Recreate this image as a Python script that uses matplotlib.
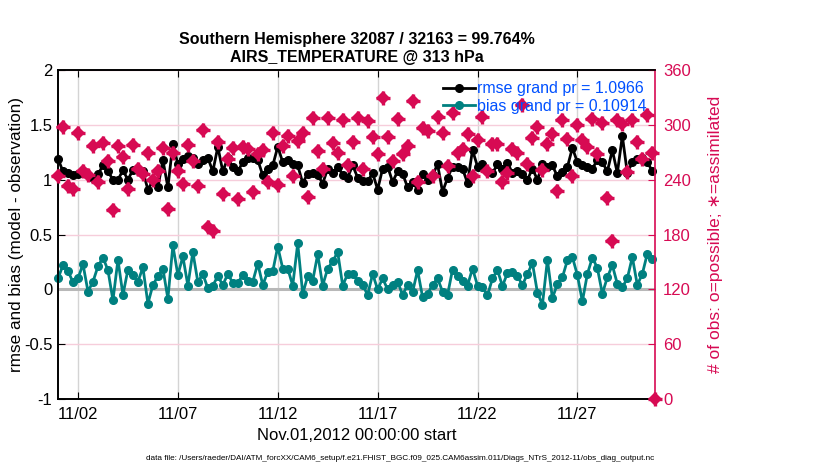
import matplotlib
matplotlib.use('Agg')
import matplotlib.pyplot as plt
import matplotlib.dates as mdates
import numpy as np
import pandas as pd

plt.rcParams['font.family'] = ['Liberation Sans', 'DejaVu Sans']

# 6-hourly bins, Nov 1 2012 onwards
bin_times = pd.date_range('2012-11-01 00:00', periods=120, freq='6h')
end_time = pd.Timestamp('2012-11-30 21:00')

rmse = [1.19, 1.075, 1.06, 1.045, 1.05, 1.075, 1.04, 1.02, 1.05, 1.13,
        1.075, 1.0, 1.0, 1.085, 1.0, 1.09, 1.1, 1.075, 0.91, 0.99,
        0.93, 1.18, 0.93, 1.33, 1.14, 1.19, 1.215, 1.2, 1.145, 1.18,
        1.2, 1.075, 1.30, 1.075, 1.2, 1.115, 1.075, 1.16, 1.2, 1.2,
        1.18, 1.04, 1.1, 1.13, 1.30, 1.16, 1.18, 1.14, 1.13, 0.97,
        1.055, 1.06, 1.045, 0.965, 1.1, 1.06, 1.12, 1.045, 1.02, 1.13,
        1.02, 0.985, 0.985, 1.06, 0.91, 1.1, 1.12, 0.98, 1.075, 1.055,
        0.93, 0.98, 0.91, 1.055, 1.0, 1.04, 1.14, 0.89, 1.015, 1.12,
        1.115, 1.1, 0.97, 1.27, 1.12, 1.14, 1.075, 1.06, 1.14, 1.1,
        1.155, 1.06, 1.075, 1.055, 1.0, 1.1, 1.0, 1.14, 1.115, 1.13,
        1.03, 1.07, 1.115, 1.29, 1.16, 1.13, 1.115, 1.1, 1.18, 1.16,
        1.075, 1.27, 1.06, 1.40, 1.06, 1.16, 1.19, 1.195, 1.165, 1.075]

bias = [0.10, 0.22, 0.165, 0.067, 0.10, 0.23, -0.02, 0.07, 0.21, 0.29,
        0.175, -0.10, 0.27, -0.05, 0.18, 0.13, 0.07, 0.20, -0.13, 0.04,
        0.12, 0.19, -0.085, 0.40, 0.13, 0.30, 0.035, 0.34, 0.067, 0.14,
        0.01, 0.035, 0.12, 0.04, 0.14, 0.06, 0.06, 0.13, 0.08, 0.07,
        0.235, 0.04, 0.16, 0.165, 0.39, 0.19, 0.19, 0.035, 0.42, -0.04,
        0.12, 0.08, 0.32, 0.035, 0.19, 0.255, 0.34, 0.035, 0.14, 0.14,
        0.08, 0.04, -0.05, 0.14, 0.0, 0.10, 0.0, 0.04, 0.07, -0.05,
        0.04, -0.025, 0.175, -0.07, -0.04, 0.04, 0.10, -0.02, -0.05, 0.18,
        0.12, 0.08, 0.035, 0.19, 0.035, 0.02, -0.055, 0.10, 0.175, 0.03,
        0.15, 0.16, 0.12, 0.04, 0.14, 0.24, -0.03, -0.14, 0.27, -0.08,
        0.05, 0.11, 0.265, 0.295, 0.13, -0.11, 0.14, 0.29, 0.195, -0.04,
        0.11, 0.22, 0.05, 0.02, 0.10, 0.295, 0.04, 0.14, 0.325, 0.28]

nobs = [244, 298, 233, 230, 291, 249, 245, 277, 238, 280,
        260, 207, 277, 265, 230, 278, 252, 246, 269, 240,
        250, 275, 208, 269, 250, 235, 278, 260, 233, 294,
        188, 184, 281, 224, 263, 275, 219, 276, 274, 226,
        268, 272, 237, 291, 234, 277, 288, 244, 282, 291,
        221, 307, 271, 252, 307, 280, 269, 305, 256, 281,
        307, 252, 304, 287, 268, 329, 287, 260, 306, 268,
        277, 326, 237, 297, 293, 244, 309, 291, 255, 313,
        269, 274, 290, 244, 283, 309, 250, 279, 279, 237,
        247, 274, 269, 322, 257, 286, 298, 251, 279, 290,
        228, 305, 285, 244, 300, 283, 276, 306, 268, 302,
        220, 173, 305, 301, 248, 305, 281, 263, 311, 269]
nobs_end = 0

title1 = 'Southern Hemisphere 32087 / 32163 = 99.764%'
title2 = 'AIRS_TEMPERATURE @ 313 hPa'
datafile = ('data file: /Users/raeder/DAI/ATM_forcXX/CAM6_setup/'
            'f.e21.FHIST_BGC.f09_025.CAM6assim.011/Diags_NTrS_2012-11/obs_diag_output.nc')

magenta = '#D70A53'
teal = '#008080'
blue = '#0050FF'

fig = plt.figure(figsize=(8.3, 4.7), dpi=100)
ax = fig.add_axes([0.0699, 0.151, 0.719, 0.700])
ax2 = ax.twinx()

obs_t = list(bin_times) + [end_time]
obs_v = nobs + [nobs_end]

# grids: grey date lines, pink lines at the obs-count ticks (same heights as left ticks)
ax.xaxis.grid(True, color='#D4D4D4', lw=1)
ax.yaxis.grid(True, color='#F6CDDB', lw=1)
ax.set_axisbelow(True)
ax.axhline(0, color='#B8B8B8', lw=2.2, zorder=1.5)

l1, = ax.plot(bin_times, rmse, '-o', color='k', lw=2, ms=5.5, zorder=3, clip_on=False,
              label='rmse grand pr = 1.0966')
l2, = ax.plot(bin_times, bias, '-o', color=teal, lw=2, ms=5.5, zorder=3, clip_on=False,
              label='bias grand pr = 0.10914')

ax.set_ylim(-1, 2)
ax.set_yticks(np.arange(-1, 2.01, 0.5))
ax.set_yticklabels(['-1', '-0.5', '0', '0.5', '1', '1.5', '2'])
ax.set_xlim(bin_times[0], end_time)
ax.xaxis.set_major_locator(mdates.DayLocator(bymonthday=[2, 7, 12, 17, 22, 27]))
ax.xaxis.set_major_formatter(mdates.DateFormatter('%m/%d'))
ax.tick_params(axis='both', direction='in', labelsize=12, length=5, top=True, pad=6)
ax.tick_params(axis='y', pad=4)
ax.set_ylabel('rmse and bias (model - observation)', fontsize=12.3, labelpad=0)
ax.set_xlabel('Nov.01,2012 00:00:00 start', fontsize=12, labelpad=4)
ax.set_title(title1 + '\n' + title2, fontsize=11.5, fontweight='bold', pad=6,
             linespacing=1.25)

# asterisk-like obs markers: a diamond core with a plus through it
ax2.plot(obs_t, obs_v, linestyle='none', marker='D', ms=6.8, mew=0,
         color=magenta, clip_on=False, zorder=4)
ax2.plot(obs_t, obs_v, linestyle='none', marker='+', ms=9.5, mew=2.4,
         color=magenta, clip_on=False, zorder=4)
ax2.set_ylim(0, 360)
ax2.set_yticks(np.arange(0, 361, 60))
ax2.tick_params(axis='y', direction='in', colors=magenta, labelsize=12, length=5, pad=6)
ax2.set_ylabel('# of obs: o=possible; \u2217=assimilated', color=magenta, fontsize=12.5,
               labelpad=12)
ax2.spines['right'].set_color(magenta)
ax2.spines['right'].set_linewidth(1.2)
for s in ['left', 'bottom', 'top']:
    ax2.spines[s].set_linewidth(1.2)
    ax.spines[s].set_linewidth(1.2)
ax.spines['right'].set_visible(False)

leg = ax2.legend(handles=[l1, l2], loc='upper right', frameon=False, fontsize=11.5,
                 handlelength=2.0, handletextpad=0.1, borderaxespad=0.3,
                 labelspacing=0.15, bbox_to_anchor=(1.005, 1.0))
for t in leg.get_texts():
    t.set_color(blue)
leg.set_zorder(10)

fig.text(0.482, 0.022, datafile, fontsize=5.9, ha='center')

fig.savefig('out.png', dpi=100)
